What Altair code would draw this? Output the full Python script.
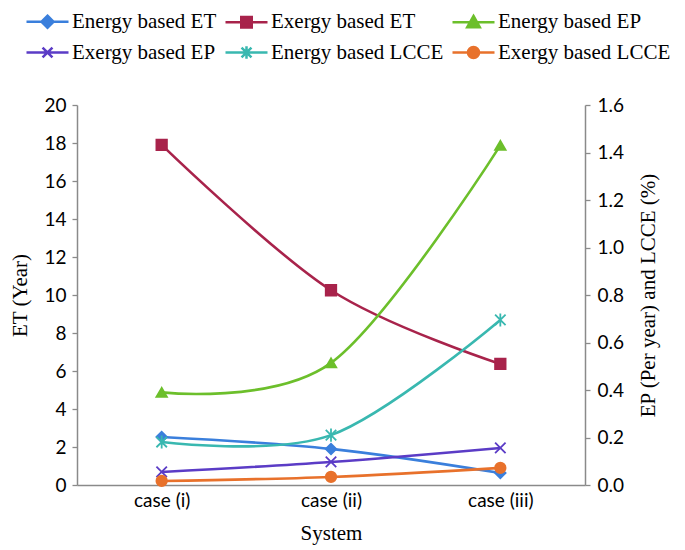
import altair as alt
import pandas as pd

cases = ["case (i)", "case (ii)", "case (iii)"]
series_names = ["Energy based ET", "Exergy based ET", "Energy based EP",
                "Exergy based EP", "Energy based LCCE", "Exergy based LCCE"]
energy_et = [2.53, 1.9, 0.63]
exergy_et = [17.9, 10.25, 6.37]
energy_ep = [0.39, 0.514, 1.43]
exergy_ep = [0.055, 0.097, 0.156]
energy_lcce = [0.181, 0.21, 0.695]
exergy_lcce = [0.017, 0.034, 0.072]
axis_side = ["left", "left", "right", "right", "right", "right"]
colors = ["#3a7fdc", "#a8234b", "#6cbf2b", "#5b3cc6", "#39b8b0", "#e8712b"]

X_PATH = "M-1,-1L1,1M-1,1L1,-1"
AST_PATH = "M-1,-1L1,1M-1,1L1,-1M0,-1.25L0,1.25"
shapes = ["diamond", "square", "triangle-up", X_PATH, AST_PATH, "circle"]

# legend symbol paths (line + marker), unit = 15px
LINE = "M-1.4,0H1.4"
legend_paths = [
    LINE + "M0,-0.4L0.4,0L0,0.4L-0.4,0Z",
    LINE + "M-0.35,-0.35H0.35V0.35H-0.35Z",
    LINE + "M0,-0.42L0.42,0.33H-0.42Z",
    LINE + "M-0.33,-0.33L0.33,0.33M-0.33,0.33L0.33,-0.33",
    LINE + "M-0.33,-0.33L0.33,0.33M-0.33,0.33L0.33,-0.33M0,-0.42L0,0.42",
    LINE + "M-0.37,0A0.37,0.37 0 1,0 0.37,0A0.37,0.37 0 1,0 -0.37,0Z",
]

all_values = [energy_et, exergy_et, energy_ep, exergy_ep, energy_lcce, exergy_lcce]
rows = []
for name, vals, side in zip(series_names, all_values, axis_side):
    for c, v in zip(cases, vals):
        rows.append({"case": c, "value": v, "series": name, "side": side})
df = pd.DataFrame(rows)

legend = alt.Legend(
    title=None, orient="none", legendX=-46, legendY=-100, columns=3,
    direction="horizontal", gridAlign="each", columnPadding=3, rowPadding=3,
    symbolSize=900, labelOffset=8, labelFont="Liberation Serif",
    labelFontSize=21, labelColor="#000000", labelLimit=400, padding=0,
    symbolStrokeWidth=2.5, symbolOpacity=1,
)

cscale = alt.Scale(domain=series_names, range=colors)
color_leg = alt.Color("series:N", scale=cscale, legend=legend)
stroke_leg = alt.Stroke("series:N", scale=cscale, legend=legend)
shape_leg = alt.Shape("series:N", scale=alt.Scale(domain=series_names, range=legend_paths), legend=legend)

xenc = alt.X("case:N", sort=cases, scale=alt.Scale(type="point", padding=0.5),
             axis=alt.Axis(title="System", labelAngle=0, ticks=False, labelPadding=6,
                           titleX=254, titleY=48, titleBaseline="middle", titleAlign="center"))

base = alt.Chart(df)

left_y_axis = alt.Axis(title="ET (Year)", values=list(range(0, 21, 2)), format="d",
                       titleAngle=270, titleX=-57, titleY=190, titleAlign="center",
                       titleBaseline="middle", labelPadding=6)
right_y_axis = alt.Axis(title="EP (Per year)  and LCCE (%)", orient="right",
                        values=[0, 0.2, 0.4, 0.6, 0.8, 1.0, 1.2, 1.4, 1.6], format=".1f",
                        titleAngle=270, titleX=63, titleY=190, titleAlign="center",
                        titleBaseline="middle", labelPadding=7)


def side_layer(side, domain, axis):
    yscale = alt.Scale(domain=domain, nice=False, zero=True)
    yenc = alt.Y("value:Q", scale=yscale, axis=axis)
    layers = []
    for name, shp, sd, col in zip(series_names, shapes, axis_side, colors):
        if sd != side:
            continue
        d = base.transform_filter(alt.datum.series == name)
        layers.append(d.mark_line(interpolate="cardinal", strokeWidth=2.6, color=col)
                      .encode(x=xenc, y=yenc))
    for name, shp, sd, col in zip(series_names, shapes, axis_side, colors):
        if sd != side:
            continue
        d = base.transform_filter(alt.datum.series == name)
        layers.append(d.mark_point(filled=True, size=110, strokeWidth=1.8, opacity=1,
                                   shape=shp, fill=col, stroke=col)
                      .encode(x=xenc, y=yenc))
    return alt.layer(*layers)


left = side_layer("left", [0, 20], left_y_axis)
right = side_layer("right", [0, 1.6], right_y_axis)

legend_layer = base.transform_filter("false").mark_point(
    filled=True, size=900, strokeWidth=2.5, opacity=1
).encode(color=color_leg, stroke=stroke_leg, shape=shape_leg)

chart = alt.layer(left, right, legend_layer).resolve_scale(y="independent").properties(
    width=508, height=380,
    padding={"left": 69, "top": 97, "right": 92, "bottom": 60},
    autosize=alt.AutoSizeParams(type="none"),
).configure_view(stroke=None).configure_axis(
    grid=False, domainColor="#8a8a8a", tickColor="#8a8a8a", domainWidth=1.5,
    tickWidth=1.3, tickSize=5, labelFont="Lato", labelFontSize=19,
    labelColor="#000000", titleFont="Liberation Serif", titleFontSize=21,
    titleFontWeight="normal", titleColor="#000000",
)

chart.save("out.html", embed_options={"renderer": "svg", "actions": False})
